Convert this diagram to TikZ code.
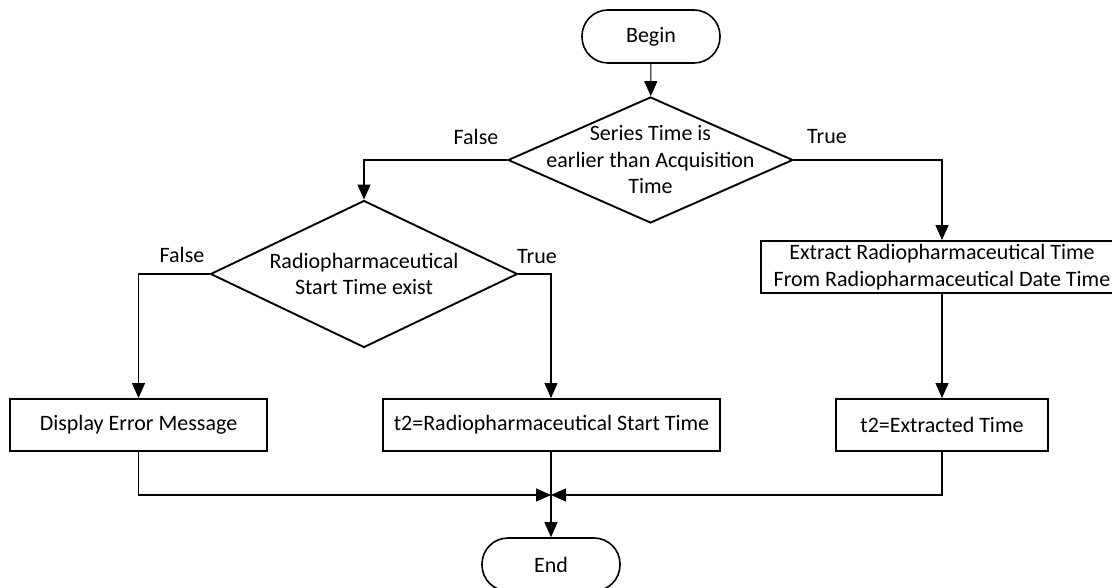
\documentclass[tikz,border=0pt]{standalone}
\usepackage{fontspec}
\setmainfont{Carlito}
\usetikzlibrary{shapes.geometric,arrows.meta}

\begin{document}
\begin{tikzpicture}[x=1pt,y=-1pt,
  every node/.style={font=\fontsize{22}{26.5}\selectfont, inner sep=0pt},
  proc/.style={draw, line width=1.9pt, rectangle, minimum height=52pt, align=center},
  term/.style={draw, line width=1.6pt, rectangle, rounded corners=26pt,
               minimum width=138pt, minimum height=53pt},
  decision/.style={draw, line width=1.9pt, diamond, inner sep=0pt},
  caption/.style={align=center},
  flow/.style={line width=1.1pt, -{Triangle[length=15pt,width=13pt]}}
]
\useasboundingbox (0,0) rectangle (1112,588);
\clip (0,0) rectangle (1112,588);

% start / stop terminals
\node[term] (begin) at (651,36.5) {Begin};
\node[term] (end) at (551,564.5) {End};

% decisions
\node[decision, minimum width=285pt, minimum height=126pt] (d1) at (650.5,160) {};
\node[caption] (d1t) at (d1.center) {Series Time is\\earlier than Acquisition\\Time};
\node[decision, minimum width=307pt, minimum height=147pt] (d2) at (364,274) {};
\node[caption] (d2t) at (d2.center) {Radiopharmaceutical\\Start Time exist};

% processing steps
\node[proc, minimum width=362pt] (ext) at (942,267)
  {Extract Radiopharmaceutical Time\\From Radiopharmaceutical Date Time};
\node[proc, minimum width=257pt] (err) at (138.5,425) {Display Error Message};
\node[proc, minimum width=337pt] (t2s) at (551.5,425) {t2=Radiopharmaceutical Start Time};
\node[proc, minimum width=212pt] (t2e) at (942,425) {t2=Extracted Time};

\coordinate (join) at (551,495);

% branch labels
\node (f1) at (476,137) {False};
\node (r1) at (827,137) {True};
\node (f2) at (182,255) {False};
\node (r2) at (537,257) {True};

% connectors
\draw[flow] (begin) -- (d1);
\draw[flow] (d1.west) -| (d2.north);
\draw[flow] (d1.east) -| (ext.north);
\draw[flow] (d2.west) -| (err.north);
\draw[flow] (d2.east) -| (t2s.north -| join);
\draw[flow] (ext) -- (t2e);
\draw[flow] (err.south) |- (join);
\draw[flow] (t2e.south) |- (join);
\draw[flow] (t2s.south -| join) -- (end.north);
\end{tikzpicture}
\end{document}
